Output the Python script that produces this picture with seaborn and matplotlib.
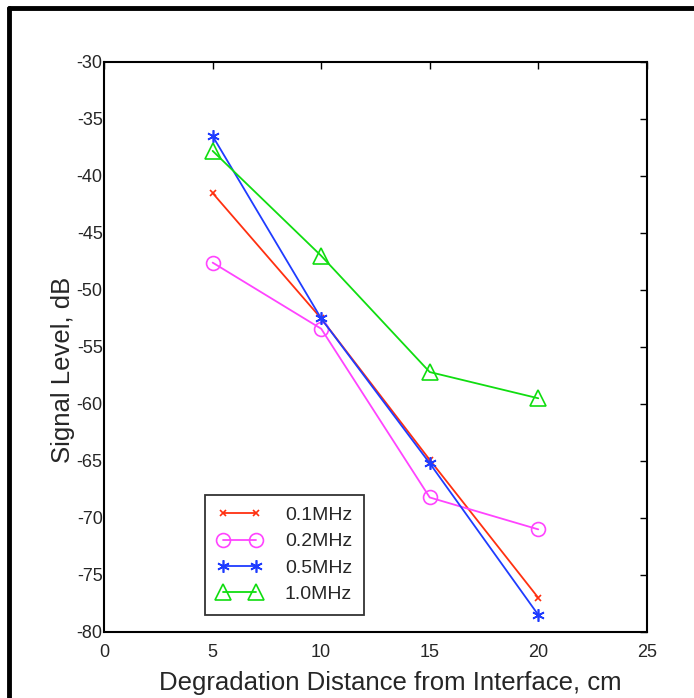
import matplotlib
matplotlib.use("Agg")
import matplotlib.pyplot as plt
from matplotlib.lines import Line2D
import pandas as pd
import seaborn as sns

# distances (cm)
distance = [5, 10, 15, 20]

# signal level (dB) per frequency
level_01 = [-41.5, -52.5, -64.9, -77.0]
level_02 = [-47.6, -53.4, -68.2, -71.0]
level_05 = [-36.5, -52.5, -65.2, -78.5]
level_10 = [-37.8, -47.0, -57.2, -59.5]

labels = ["0.1MHz", "0.2MHz", "0.5MHz", "1.0MHz"]
colors = ["#FF3010", "#FF44FF", "#1F3CFF", "#10DD10"]
markers = ["x", "o", (6, 2, 0), "^"]
msizes = [5, 10, 9, 11]

rows = []
for lab, vals in zip(labels, [level_01, level_02, level_05, level_10]):
    for d, v in zip(distance, vals):
        rows.append({"dist": d, "level": v, "freq": lab})
df = pd.DataFrame(rows)

sns.set_style("white")
plt.rcParams["font.family"] = ["Liberation Sans", "DejaVu Sans"]
plt.rcParams["axes.unicode_minus"] = False

fig = plt.figure(figsize=(6.94, 6.98), dpi=100)
ax = fig.add_axes([0.150, 0.0946, 0.782, 0.8166])

for lab, c, m, ms in zip(labels, colors, markers, msizes):
    sub = df[df["freq"] == lab]
    sns.lineplot(data=sub, x="dist", y="level", ax=ax, color=c, marker=m,
                 markersize=ms, markerfacecolor="none", markeredgecolor=c,
                 markeredgewidth=1.2, linewidth=1.3, label=lab)

ax.set_xlim(0, 25)
ax.set_ylim(-80, -30)
ax.set_xticks([0, 5, 10, 15, 20, 25])
ax.set_yticks(range(-80, -29, 5))
ax.tick_params(direction="in", length=5, width=1, labelsize=13, color="black",
               top=True, right=True)
ax.tick_params(axis="y", pad=1)
ax.tick_params(axis="x", pad=9)
for s in ax.spines.values():
    s.set_color("black")
    s.set_linewidth(1.5)
ax.set_xlabel("Degradation Distance from Interface, cm", fontsize=18.5)
ax.set_ylabel("Signal Level, dB", fontsize=18.5)
ax.xaxis.set_label_coords(0.527, -0.068)
ax.yaxis.set_label_coords(-0.053, 0.46)

leg = ax.legend(loc="lower left", bbox_to_anchor=(0.186, 0.03), numpoints=2,
                handlelength=2.3, fontsize=14, frameon=True, fancybox=False,
                borderpad=0.6, labelspacing=0.45, handletextpad=1.2,
                borderaxespad=0)
leg.get_frame().set_edgecolor("black")
leg.get_frame().set_linewidth(1.3)

# outer frame (top and left edges)
fig.add_artist(Line2D([0.013, 1.0], [0.988, 0.988], transform=fig.transFigure,
                      color="black", linewidth=3.5))
fig.add_artist(Line2D([0.013, 0.013], [0.0, 0.988], transform=fig.transFigure,
                      color="black", linewidth=3.5))

fig.savefig("out.png", dpi=100)
